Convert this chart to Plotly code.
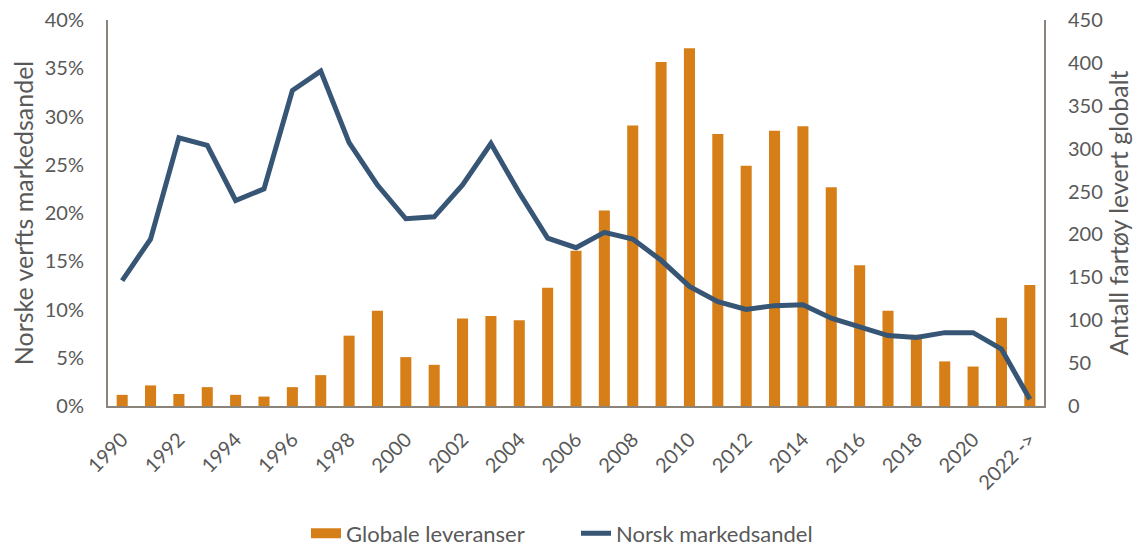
import plotly.graph_objects as go

years = [str(y) for y in range(1990, 2022)] + ["2022 ->"]
deliveries = [13, 24, 14, 22, 13, 11, 22, 36, 82, 111,
              57, 48, 102, 105, 100, 138, 181, 228, 327, 401,
              417, 317, 280, 321, 326, 255, 164, 111, 83, 52,
              46, 103, 141]
share = [0.130, 0.173, 0.278, 0.270, 0.213, 0.225, 0.327, 0.347, 0.273, 0.229,
         0.194, 0.196, 0.229, 0.272, 0.221, 0.174, 0.164, 0.180, 0.173, 0.151,
         0.124, 0.108, 0.100, 0.104, 0.105, 0.091, 0.082, 0.073, 0.071, 0.076,
         0.076, 0.059, 0.007]
tick_labels = years[::2]

txt = "#595959"
axc = "#8a847a"
bar_color = "#d67f19"
line_color = "#375574"
font = "Lato"

fig = go.Figure()
fig.add_trace(go.Bar(x=years, y=deliveries, name="Globale leveranser",
                     marker=dict(color=bar_color, line=dict(width=0)),
                     yaxis="y", showlegend=False, legendgroup="bars"))
# legend entry drawn as a wide block, like the reference
fig.add_trace(go.Scatter(x=[None], y=[None], name="Globale leveranser", mode="lines",
                         line=dict(color=bar_color, width=13), yaxis="y",
                         legendgroup="bars", hoverinfo="skip"))
fig.add_trace(go.Scatter(x=years, y=share, name="Norsk markedsandel",
                         mode="lines", line=dict(color=line_color, width=5),
                         yaxis="y2"))

fig.update_layout(
    width=1138, height=538,
    margin=dict(l=100, r=102, t=12, b=140, autoexpand=False),
    paper_bgcolor="white", plot_bgcolor="white",
    font=dict(family=font, color=txt, size=20),
    bargap=0.61,
    showlegend=True,
    legend=dict(orientation="h", x=0.5, xanchor="center", y=-0.33, yanchor="middle",
                font=dict(size=22, color=txt), traceorder="normal",
                entrywidth=225, entrywidthmode="pixels"),
    xaxis=dict(type="category", categoryorder="array", categoryarray=years,
               tickmode="array", tickvals=tick_labels, ticktext=tick_labels,
               tickangle=-45, showline=True, linecolor=axc, linewidth=2, automargin=False,
               showgrid=False, ticks="", ticklabelstandoff=12,
               tickfont=dict(size=20, color=txt)),
    yaxis=dict(side="right", range=[0, 450], dtick=50, showline=True, linecolor=axc,
               linewidth=2, showgrid=False, zeroline=False, ticks="", automargin=False,
               ticklabelstandoff=18, ticklabeloverflow="allow",
               title=dict(text="Antall fartøy levert globalt", font=dict(size=25, color=txt),
                          standoff=6),
               tickfont=dict(size=20, color=txt)),
    yaxis2=dict(overlaying="y", side="left", range=[0, 0.4], dtick=0.05, tickformat=".0%",
                showline=True, linecolor=axc, linewidth=2, showgrid=False, zeroline=False,
                ticks="", ticklabelstandoff=18, automargin=False, ticklabeloverflow="allow",
                title=dict(text="Norske verfts markedsandel", font=dict(size=25, color=txt),
                           standoff=8),
                tickfont=dict(size=20, color=txt)),
)

fig.write_html("out.html")
